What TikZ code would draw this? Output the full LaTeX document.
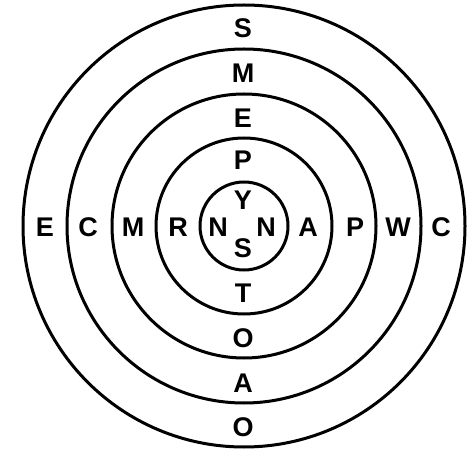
\documentclass[tikz,border=0pt]{standalone}
\usepackage{fontspec}
\setmainfont{Liberation Sans}
\newfontfamily\labfont{Liberation Sans Bold}
\begin{document}
\begin{tikzpicture}[x=1pt,y=1pt,
  ring/.style={line width=3pt},
  lab/.style={font=\labfont\fontsize{27pt}{30pt}\selectfont, inner sep=0pt, anchor=center}]
\useasboundingbox (0,0) rectangle (476,450);
\coordinate (c) at (244,224);
\foreach \r in {44,88,132,177,221} \draw[ring] (c) circle (\r);
% top column
\node[lab] (t1) at (243,422) {S};
\node[lab] (t2) at (243,377) {M};
\node[lab] (t3) at (243,332) {E};
\node[lab] (t4) at (243,290) {P};
\node[lab] (t5) at (243,250) {Y};
% bottom column
\node[lab] (b5) at (243,202) {S};
\node[lab] (b4) at (243,157) {T};
\node[lab] (b3) at (243,112) {O};
\node[lab] (b2) at (243,67) {A};
\node[lab] (b1) at (243,23) {O};
% left row
\node[lab] (l1) at (45,223) {E};
\node[lab] (l2) at (88,223) {C};
\node[lab] (l3) at (133,223) {M};
\node[lab] (l4) at (178,223) {R};
\node[lab] (l5) at (218,223) {N};
% right row
\node[lab] (r5) at (266,223) {N};
\node[lab] (r4) at (308,223) {A};
\node[lab] (r3) at (355,223) {P};
\node[lab] (r2) at (398,223) {W};
\node[lab] (r1) at (441,223) {C};
\end{tikzpicture}
\end{document}
